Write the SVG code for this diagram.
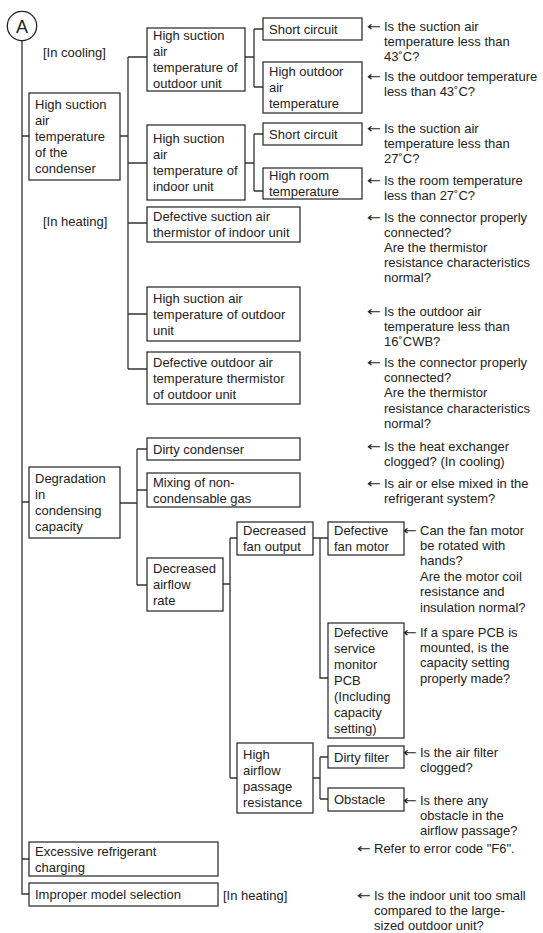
<svg xmlns="http://www.w3.org/2000/svg" width="543" height="933" viewBox="0 0 543 933">
<style>
.bg{fill:#fff}
.box rect{fill:#fff;stroke:#222;stroke-width:1.2}
text{font-family:"Liberation Sans",Arial,sans-serif;font-size:13px;fill:#222}
text.ar{font-family:"DejaVu Sans",sans-serif;font-size:13px}
.c{stroke:#333;stroke-width:1.3;fill:none}
</style>
<rect class="bg" width="543" height="933"/>
<g id="connectors">
<path class="c" d="M22 40.7V894H29M22 136H29M22 502H29M22 859H29"/>
<path class="c" d="M120 136H128M128 57V369M128 57H147M128 163H147M128 223H147M128 314H147M128 369H147"/>
<path class="c" d="M245 57H254M254 29V87M254 29H263M254 87H263"/>
<path class="c" d="M245 163H254M254 134V191M254 134H263M254 191H263"/>
<path class="c" d="M120 503H137M137 449V585M137 449H147M137 490H147M137 585H147"/>
<path class="c" d="M223 584H230M230 538V778M230 538H237M230 778H237"/>
<path class="c" d="M313 538H328M320 538V678H328"/>
<path class="c" d="M313 778H320M320 757V799M320 757H328M320 799H328"/>
</g>
<g id="nodeA"><circle cx="22" cy="26" r="14.7" fill="#fff" stroke="#222" stroke-width="1.3"/><text x="22" y="32.5" text-anchor="middle" style="font-size:18px">A</text></g>
<g id="labels">
<text x="43" y="56.5">[In cooling]</text>
<text x="43" y="226">[In heating]</text>
<text x="223" y="899.5">[In heating]</text>
</g>
<g id="b_cond" class="box"><rect x="29" y="93" width="91" height="87"/><text><tspan x="35" y="109">High suction</tspan><tspan x="35" y="125">air</tspan><tspan x="35" y="141">temperature</tspan><tspan x="35" y="157">of the</tspan><tspan x="35" y="173">condenser</tspan></text></g>
<g id="b_out_c" class="box"><rect x="147" y="28" width="98" height="63"/><text><tspan x="153" y="40">High suction</tspan><tspan x="153" y="56">air</tspan><tspan x="153" y="72">temperature of</tspan><tspan x="153" y="88">outdoor unit</tspan></text></g>
<g id="b_sc1" class="box"><rect x="263" y="18" width="99" height="22"/><text x="269" y="33.6">Short circuit</text></g>
<g id="b_hoat" class="box"><rect x="263" y="62" width="99" height="51"/><text><tspan x="269" y="76">High outdoor</tspan><tspan x="269" y="92">air</tspan><tspan x="269" y="108">temperature</tspan></text></g>
<g id="b_in_c" class="box"><rect x="147" y="125" width="98" height="75"/><text><tspan x="153" y="143">High suction</tspan><tspan x="153" y="159">air</tspan><tspan x="153" y="175">temperature of</tspan><tspan x="153" y="191">indoor unit</tspan></text></g>
<g id="b_sc2" class="box"><rect x="263" y="123" width="99" height="22"/><text x="269" y="138.6">Short circuit</text></g>
<g id="b_hrt" class="box"><rect x="263" y="168" width="99" height="31"/><text><tspan x="269" y="180">High room</tspan><tspan x="269" y="196">temperature</tspan></text></g>
<g id="b_dst" class="box"><rect x="147" y="207" width="153" height="35"/><text><tspan x="153" y="221">Defective suction air</tspan><tspan x="153" y="237">thermistor of indoor unit</tspan></text></g>
<g id="b_hsa_h" class="box"><rect x="147" y="287" width="153" height="54"/><text><tspan x="153" y="302.6">High suction air</tspan><tspan x="153" y="318.6">temperature of outdoor</tspan><tspan x="153" y="334.6">unit</tspan></text></g>
<g id="b_doat" class="box"><rect x="147" y="352" width="153" height="52"/><text><tspan x="153" y="366.6">Defective outdoor air</tspan><tspan x="153" y="382.6">temperature thermistor</tspan><tspan x="153" y="398.6">of outdoor unit</tspan></text></g>
<g id="b_deg" class="box"><rect x="29" y="467" width="91" height="71"/><text><tspan x="35" y="483">Degradation</tspan><tspan x="35" y="499">in</tspan><tspan x="35" y="515">condensing</tspan><tspan x="35" y="531">capacity</tspan></text></g>
<g id="b_dc" class="box"><rect x="147" y="438" width="153" height="22"/><text x="153" y="453.6">Dirty condenser</text></g>
<g id="b_mix" class="box"><rect x="147" y="473" width="153" height="34"/><text><tspan x="153" y="486.6">Mixing of non-</tspan><tspan x="153" y="502.6">condensable gas</tspan></text></g>
<g id="b_dar" class="box"><rect x="147" y="558" width="76" height="53"/><text><tspan x="153" y="573">Decreased</tspan><tspan x="153" y="589">airflow</tspan><tspan x="153" y="605">rate</tspan></text></g>
<g id="b_dfo" class="box"><rect x="237" y="522" width="76" height="33"/><text><tspan x="243" y="535">Decreased</tspan><tspan x="243" y="551">fan output</tspan></text></g>
<g id="b_dfm" class="box"><rect x="328" y="522" width="76" height="33"/><text><tspan x="334" y="535">Defective</tspan><tspan x="334" y="551">fan motor</tspan></text></g>
<g id="b_pcb" class="box"><rect x="328" y="623" width="76" height="115"/><text><tspan x="334" y="637">Defective</tspan><tspan x="334" y="653">service</tspan><tspan x="334" y="669">monitor</tspan><tspan x="334" y="685">PCB</tspan><tspan x="334" y="701">(Including</tspan><tspan x="334" y="717">capacity</tspan><tspan x="334" y="733">setting)</tspan></text></g>
<g id="b_hapr" class="box"><rect x="237" y="743" width="76" height="70"/><text><tspan x="243" y="758.6">High</tspan><tspan x="243" y="774.6">airflow</tspan><tspan x="243" y="790.6">passage</tspan><tspan x="243" y="806.6">resistance</tspan></text></g>
<g id="b_df" class="box"><rect x="328" y="746" width="76" height="22"/><text x="334" y="761.6">Dirty filter</text></g>
<g id="b_obs" class="box"><rect x="328" y="788" width="76" height="23"/><text x="334" y="804.1">Obstacle</text></g>
<g id="b_exc" class="box"><rect x="29" y="842" width="189" height="34"/><text><tspan x="35" y="855.6">Excessive refrigerant</tspan><tspan x="35" y="871.6">charging</tspan></text></g>
<g id="b_imp" class="box"><rect x="29" y="883" width="189" height="23"/><text x="35" y="899.1">Improper model selection</text></g>
<g id="notes">
<text class="ar" x="367" y="30.5" textLength="14" lengthAdjust="spacingAndGlyphs">←</text>
<text><tspan x="384" y="30.5">Is the suction air</tspan><tspan x="384" y="45.7">temperature less than</tspan><tspan x="384" y="60.9">43˚C?</tspan></text>
<text class="ar" x="367" y="80.5" textLength="14" lengthAdjust="spacingAndGlyphs">←</text>
<text><tspan x="384" y="80.5">Is the outdoor temperature</tspan><tspan x="384" y="95.7">less than 43˚C?</tspan></text>
<text class="ar" x="367" y="132.5" textLength="14" lengthAdjust="spacingAndGlyphs">←</text>
<text><tspan x="384" y="132.5">Is the suction air</tspan><tspan x="384" y="147.7">temperature less than</tspan><tspan x="384" y="162.9">27˚C?</tspan></text>
<text class="ar" x="367" y="184.5" textLength="14" lengthAdjust="spacingAndGlyphs">←</text>
<text><tspan x="384" y="184.5">Is the room temperature</tspan><tspan x="384" y="199.7">less than 27˚C?</tspan></text>
<text class="ar" x="367" y="221.5" textLength="14" lengthAdjust="spacingAndGlyphs">←</text>
<text><tspan x="384" y="221.5">Is the connector properly</tspan><tspan x="384" y="236.7">connected?</tspan><tspan x="384" y="251.9">Are the thermistor</tspan><tspan x="384" y="267.1">resistance characteristics</tspan><tspan x="384" y="282.3">normal?</tspan></text>
<text class="ar" x="367" y="316" textLength="14" lengthAdjust="spacingAndGlyphs">←</text>
<text><tspan x="384" y="316">Is the outdoor air</tspan><tspan x="384" y="331.2">temperature less than</tspan><tspan x="384" y="346.4">16˚CWB?</tspan></text>
<text class="ar" x="367" y="367" textLength="14" lengthAdjust="spacingAndGlyphs">←</text>
<text><tspan x="384" y="367">Is the connector properly</tspan><tspan x="384" y="382.2">connected?</tspan><tspan x="384" y="397.4">Are the thermistor</tspan><tspan x="384" y="412.6">resistance characteristics</tspan><tspan x="384" y="427.8">normal?</tspan></text>
<text class="ar" x="367" y="450.5" textLength="14" lengthAdjust="spacingAndGlyphs">←</text>
<text><tspan x="384" y="450.5">Is the heat exchanger</tspan><tspan x="384" y="465.7">clogged? (In cooling)</tspan></text>
<text class="ar" x="367" y="487.5" textLength="14" lengthAdjust="spacingAndGlyphs">←</text>
<text><tspan x="384" y="487.5">Is air or else mixed in the</tspan><tspan x="384" y="502.7">refrigerant system?</tspan></text>
<text class="ar" x="403" y="534.5" textLength="14" lengthAdjust="spacingAndGlyphs">←</text>
<text><tspan x="420" y="534.5">Can the fan motor</tspan><tspan x="420" y="549.9">be rotated with</tspan><tspan x="420" y="565.3">hands?</tspan><tspan x="420" y="580.7">Are the motor coil</tspan><tspan x="420" y="596.1">resistance and</tspan><tspan x="420" y="611.5">insulation normal?</tspan></text>
<text class="ar" x="403" y="636.5" textLength="14" lengthAdjust="spacingAndGlyphs">←</text>
<text><tspan x="420" y="636.5">If a spare PCB is</tspan><tspan x="420" y="651.9">mounted, is the</tspan><tspan x="420" y="667.3">capacity setting</tspan><tspan x="420" y="682.7">properly made?</tspan></text>
<text class="ar" x="403" y="756.5" textLength="14" lengthAdjust="spacingAndGlyphs">←</text>
<text><tspan x="420" y="756.5">Is the air filter</tspan><tspan x="420" y="771.9">clogged?</tspan></text>
<text class="ar" x="403" y="804.5" textLength="14" lengthAdjust="spacingAndGlyphs">←</text>
<text><tspan x="420" y="804.5">Is there any</tspan><tspan x="420" y="819.9">obstacle in the</tspan><tspan x="420" y="835.3">airflow passage?</tspan></text>
<text class="ar" x="357" y="852.5" textLength="14" lengthAdjust="spacingAndGlyphs">←</text>
<text x="374" y="852.5">Refer to error code "F6".</text>
<text class="ar" x="357" y="899.5" textLength="14" lengthAdjust="spacingAndGlyphs">←</text>
<text><tspan x="374" y="899.5">Is the indoor unit too small</tspan><tspan x="374" y="914.9">compared to the large-</tspan><tspan x="374" y="930.3">sized outdoor unit?</tspan></text>
</g>
</svg>
